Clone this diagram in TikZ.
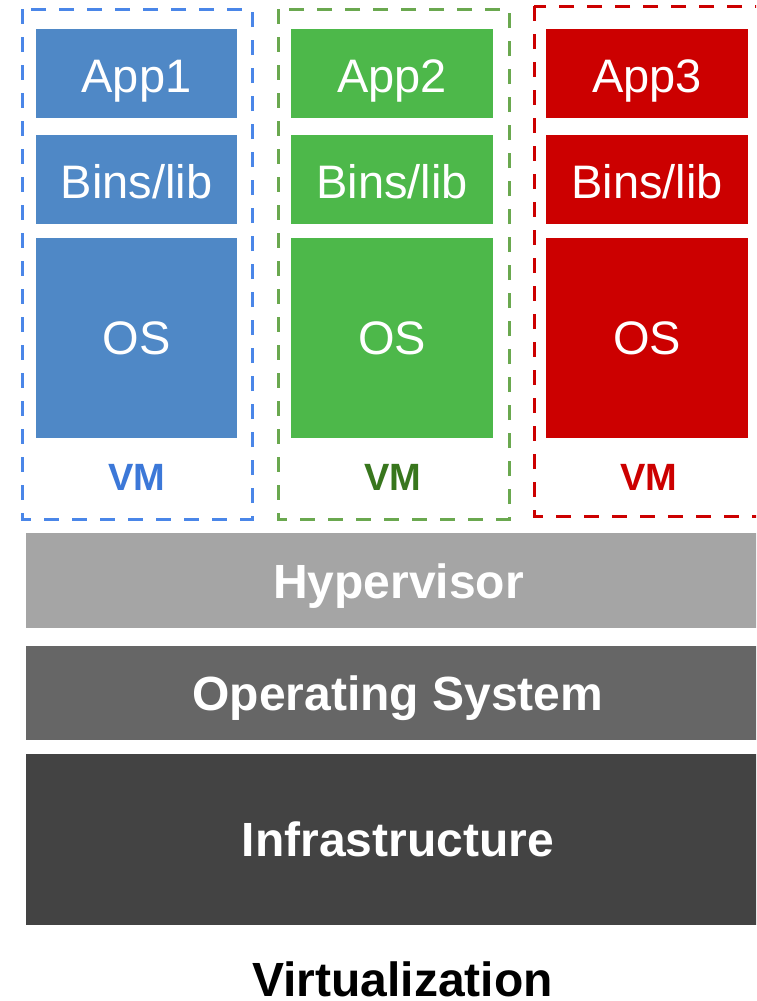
\documentclass[tikz,border=0pt]{standalone}
\usepackage{fontspec}
\setmainfont{Liberation Sans}
\definecolor{bfill}{RGB}{79,136,198}
\definecolor{gfill}{RGB}{77,184,74}
\definecolor{rfill}{RGB}{204,0,0}
\definecolor{bdash}{RGB}{74,134,232}
\definecolor{gdash}{RGB}{106,168,79}
\definecolor{rdash}{RGB}{204,0,0}
\definecolor{btext}{RGB}{60,120,216}
\definecolor{gtext}{RGB}{56,118,29}
\definecolor{rtext}{RGB}{204,0,0}
\definecolor{hyp}{RGB}{165,165,165}
\definecolor{osc}{RGB}{102,102,102}
\definecolor{infra}{RGB}{67,67,67}
\begin{document}
\begin{tikzpicture}[x=1pt,y=-1pt,
  layer/.style={inner sep=0pt, minimum width=202pt},
  ltext/.style={inner sep=0pt, anchor=base, text=white, font=\fontsize{47}{50}\selectfont},
  vmbox/.style={line width=3pt, dash pattern=on 15pt off 13pt},
  vmlabel/.style={anchor=base, font=\fontsize{38}{40}\selectfont\bfseries, inner sep=0pt},
  bartext/.style={inner sep=0pt, anchor=base, text=white, font=\fontsize{48}{52}\selectfont\bfseries}
]
\useasboundingbox (0,0) rectangle (756,1001);
\clip (0,0) rectangle (756,1001);
\fill[white] (0,0) rectangle (756,1001);
% dashed VM frames
\draw[vmbox, bdash] (22,9) rectangle (252,519);
\draw[vmbox, gdash] (278,9) rectangle (509,519);
\draw[vmbox, rdash] (534,6) rectangle (800,516);
% VM 1
\node[layer, fill=bfill, minimum height=89pt, minimum width=201pt] (app1) at (136.5,73.5) {};
\node[layer, fill=bfill, minimum height=89pt, minimum width=201pt] (bins1) at (136.5,179.5) {};
\node[layer, fill=bfill, minimum height=200pt, minimum width=201pt] (os1) at (136.5,338) {};
\node[ltext] (app1t) at (136.5,92.5) {App1};
\node[ltext] (bins1t) at (136.5,198) {Bins/lib};
\node[ltext] (os1t) at (136.5,354.5) {OS};
\node[vmlabel, text=btext] (vm1) at (137,490) {VM};
% VM 2
\node[layer, fill=gfill, minimum height=89pt] (app2) at (392,73.5) {};
\node[layer, fill=gfill, minimum height=89pt] (bins2) at (392,179.5) {};
\node[layer, fill=gfill, minimum height=200pt] (os2) at (392,338) {};
\node[ltext] (app2t) at (392,92.5) {App2};
\node[ltext] (bins2t) at (392,198) {Bins/lib};
\node[ltext] (os2t) at (392,354.5) {OS};
\node[vmlabel, text=gtext] (vm2) at (393,490) {VM};
% VM 3
\node[layer, fill=rfill, minimum height=89pt] (app3) at (647,73.5) {};
\node[layer, fill=rfill, minimum height=89pt] (bins3) at (647,179.5) {};
\node[layer, fill=rfill, minimum height=200pt] (os3) at (647,338) {};
\node[ltext] (app3t) at (647,92.5) {App3};
\node[ltext] (bins3t) at (647,198) {Bins/lib};
\node[ltext] (os3t) at (647,354.5) {OS};
\node[vmlabel, text=rtext] (vm3) at (649,490) {VM};
% bars
\fill[hyp] (26,533) rectangle (780,628);
\node[bartext] (hv) at (398.5,598) {Hypervisor};
\fill[osc] (26,646) rectangle (780,740);
\node[bartext] (host) at (398,710) {Operating System};
\fill[infra] (26,754) rectangle (780,925);
\node[bartext] (inf) at (398,856) {Infrastructure};
\node[bartext, text=black] (title) at (402.5,996) {Virtualization};
\end{tikzpicture}
\end{document}
